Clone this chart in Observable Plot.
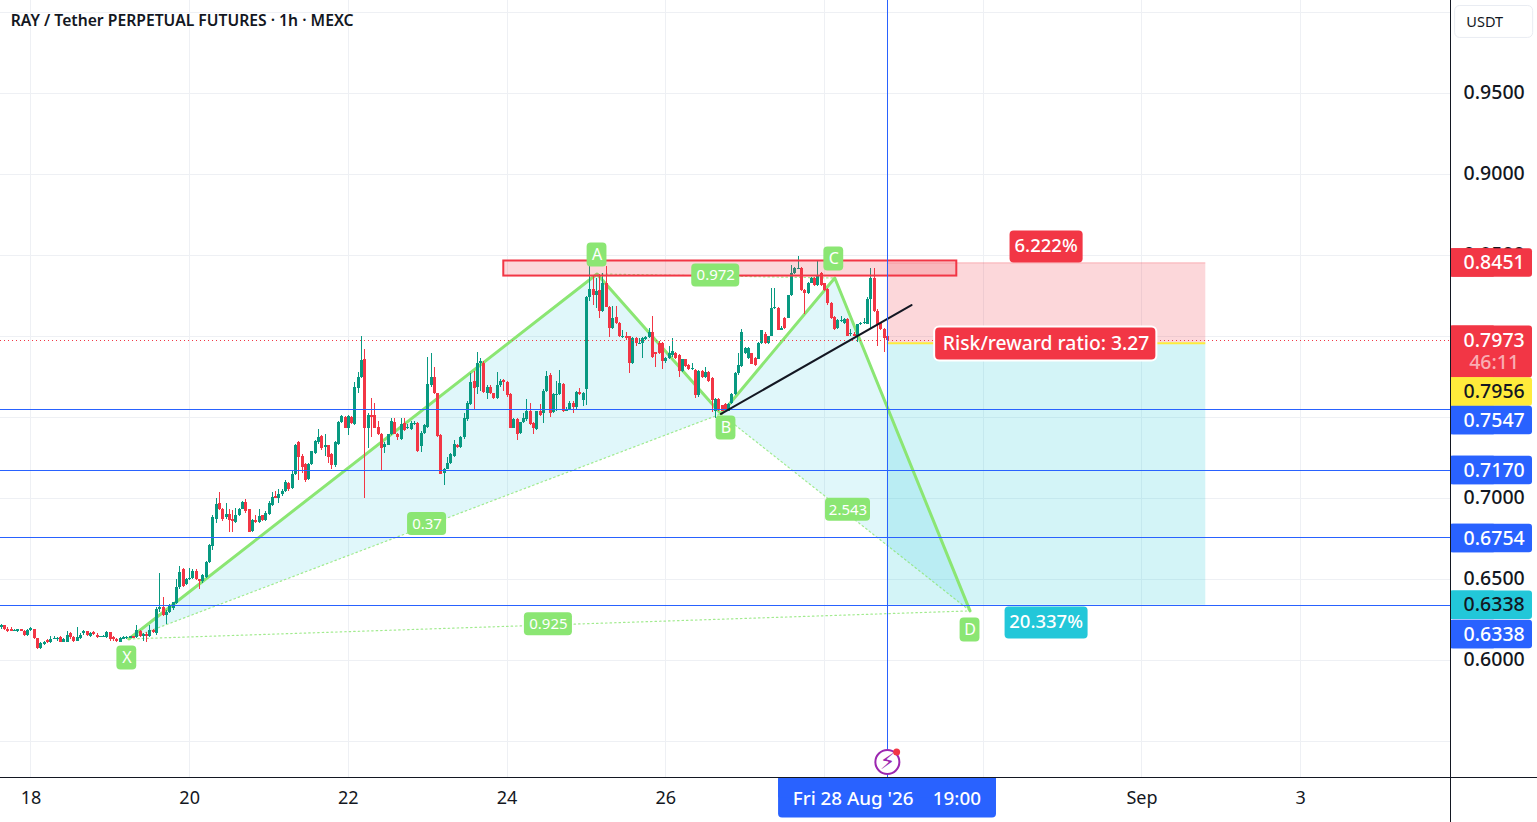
<!DOCTYPE html>
<html>
<head>
<meta charset="utf-8">
<script src="https://cdn.jsdelivr.net/npm/d3@7"></script>
<script src="https://cdn.jsdelivr.net/npm/@observablehq/plot@0.6"></script>
<style>html,body{margin:0;padding:0;background:#fff;overflow:hidden}svg{display:block}</style>
</head>
<body>
<div id="chart"></div>
<script>
// hourly candles in ticks of 0.0001; first candle is 9 hours before 18 Aug 00:00
const opens = [
6204,6210,6191,6185,6179,6179,6185,6179,6154,6185,
6191,6130,6068,6093,6117,6105,6130,6130,6136,6111,
6111,6161,6136,6117,6130,6161,6179,6142,6167,6154,
6142,6142,6136,6167,6136,6124,6111,6130,6136,6136,
6142,6136,6179,6148,6154,6142,6185,6161,6309,6327,
6272,6296,6315,6346,6445,6556,6463,6494,6506,6549,
6494,6482,6512,6599,6698,6870,6963,6932,6877,6901,
6864,6846,6889,6932,6975,6926,6796,6864,6846,6889,
6864,6901,6951,7006,7000,7019,7043,7087,7056,7142,
7340,7259,7204,7117,7204,7272,7340,7377,7309,7321,
7266,7198,7333,7463,7500,7432,7500,7451,7679,7741,
7852,7426,7506,7512,7438,7395,7309,7327,7389,7469,
7395,7364,7457,7432,7420,7457,7457,7315,7401,7438,
7692,7741,7642,7383,7154,7179,7210,7259,7327,7309,
7371,7482,7580,7722,7685,7833,7833,7648,7685,7642,
7617,7692,7722,7716,7636,7432,7482,7401,7463,7482,
7537,7457,7420,7531,7519,7660,7759,7525,7636,7636,
7698,7537,7549,7586,7556,7654,7599,7667,8235,8290,
8253,8278,8154,8327,8179,8049,8117,8080,7994,7994,
7994,7833,7982,7951,7951,7982,7988,8019,7895,7951,
7951,7840,7864,7877,7895,7877,7778,7852,7815,7796,
7790,7630,7778,7741,7772,7735,7537,7611,7568,7580,
7537,7586,7636,7766,7809,7889,7864,7889,7864,7858,
7951,8012,7951,8000,8167,8167,8037,8111,8111,8247,
8383,8414,8414,8278,8265,8327,8358,8309,8383,8321,
8290,8198,8117,8049,8093,8080,8099,8012,8012,8000,
8068,8080,8074,8228,8358,8154,8080,8043,8000];
const closes = [
6210,6191,6173,6179,6179,6185,6179,6154,6185,6191,
6130,6068,6099,6111,6111,6124,6130,6130,6111,6124,
6154,6136,6117,6136,6154,6179,6154,6161,6161,6136,
6142,6142,6167,6124,6124,6117,6130,6136,6136,6142,
6136,6185,6142,6154,6148,6185,6167,6309,6321,6272,
6296,6333,6352,6445,6543,6451,6500,6506,6549,6494,
6482,6519,6599,6704,6877,6957,6926,6870,6901,6864,
6858,6889,6932,6975,6914,6790,6864,6846,6883,6864,
6907,6963,7006,7000,7019,7043,7093,7050,7148,7327,
7247,7191,7105,7204,7284,7346,7371,7303,7321,7253,
7198,7340,7463,7506,7432,7506,7457,7685,7741,7846,
7426,7512,7500,7432,7389,7303,7333,7389,7475,7395,
7371,7451,7414,7432,7457,7457,7284,7401,7445,7698,
7741,7642,7377,7148,7179,7216,7266,7333,7309,7371,
7488,7586,7716,7679,7833,7840,7654,7685,7642,7617,
7692,7722,7716,7630,7432,7482,7395,7463,7488,7537,
7451,7426,7531,7512,7660,7753,7519,7636,7636,7704,
7531,7549,7586,7556,7654,7636,7648,8235,8284,8253,
8272,8154,8327,8179,8049,8111,8080,7994,7994,7988,
7833,7982,7951,7951,7982,7988,8019,7870,7889,7895,
7840,7864,7895,7907,7864,7778,7852,7809,7796,7796,
7630,7778,7741,7772,7722,7599,7611,7543,7537,7549,
7580,7636,7766,7815,8019,7920,7920,7827,7815,7951,
8031,7951,7994,8167,8179,8037,8049,8049,8247,8383,
8414,8414,8278,8265,8327,8358,8309,8371,8309,8278,
8198,8105,8043,8093,8093,8099,8000,8012,8000,8068,
8080,8080,8228,8352,8154,8074,8043,7982,7973];
const highs = [
6222,6216,6198,6198,6191,6191,6191,6185,6191,6198,
6191,6130,6105,6117,6124,6142,6142,6136,6142,6130,
6173,6167,6142,6198,6161,6185,6179,6167,6173,6161,
6148,6154,6173,6167,6142,6130,6136,6142,6148,6148,
6148,6210,6185,6161,6167,6210,6191,6321,6531,6383,
6303,6340,6358,6494,6580,6562,6506,6562,6556,6556,
6500,6525,6611,6710,6889,7000,7037,6938,6963,6932,
6920,6938,6938,6981,6988,6932,6870,6895,6926,6895,
6914,6981,7031,7043,7050,7050,7111,7093,7161,7333,
7346,7266,7210,7210,7290,7358,7420,7383,7395,7327,
7272,7346,7475,7512,7506,7512,7506,7710,7772,8000,
7914,7519,7617,7586,7475,7401,7340,7395,7488,7488,
7401,7488,7488,7451,7475,7475,7463,7408,7451,7870,
7889,7803,7648,7395,7185,7247,7272,7358,7333,7377,
7519,7593,7766,7778,7901,7864,7840,7692,7692,7648,
7772,7729,7729,7722,7642,7488,7488,7469,7519,7605,
7586,7463,7537,7580,7667,7778,7766,7642,7722,7784,
7704,7556,7593,7593,7660,7673,7654,8241,8537,8371,
8358,8377,8383,8426,8185,8185,8185,8086,8031,8019,
8000,7988,7988,7982,7988,8000,8049,8123,7901,7963,
7957,7870,7938,7982,7901,7883,7858,7858,7821,7833,
7796,7784,7784,7803,7778,7741,7617,7617,7574,7586,
7586,7642,7772,7889,8043,7926,7926,7895,7870,7957,
8037,8019,8000,8296,8296,8173,8056,8117,8253,8438,
8420,8488,8420,8284,8333,8364,8364,8457,8389,8327,
8296,8204,8123,8099,8123,8105,8105,8043,8019,8074,
8086,8111,8235,8414,8414,8161,8086,8049,8006];
const lows = [
6191,6185,6167,6173,6173,6167,6173,6148,6148,6179,
6124,6062,6062,6087,6099,6099,6124,6117,6105,6105,
6105,6124,6111,6117,6124,6154,6148,6136,6154,6130,
6136,6136,6130,6117,6117,6111,6105,6124,6124,6130,
6130,6130,6136,6117,6111,6136,6161,6154,6296,6266,
6222,6290,6303,6340,6438,6445,6457,6488,6500,6488,
6438,6475,6506,6593,6679,6840,6920,6852,6870,6784,
6790,6840,6883,6926,6907,6784,6790,6840,6840,6858,
6858,6895,6945,6994,6969,7012,7037,7043,7050,7136,
7111,7154,7093,7111,7198,7266,7333,7296,7259,7210,
7179,7191,7327,7457,7426,7383,7451,7445,7642,7735,
6994,7303,7371,7426,7383,7167,7272,7321,7383,7389,
7358,7358,7408,7420,7414,7445,7278,7278,7395,7432,
7685,7636,7371,7142,7080,7173,7204,7253,7303,7303,
7364,7475,7574,7549,7636,7660,7648,7611,7636,7611,
7611,7685,7660,7623,7426,7426,7358,7395,7457,7475,
7445,7395,7414,7506,7457,7654,7494,7519,7537,7630,
7525,7531,7543,7519,7549,7630,7562,7568,8216,8191,
8167,8111,8148,8173,7988,8043,8074,7988,7982,7975,
7766,7827,7938,7945,7864,7975,7982,7864,7803,7883,
7796,7833,7858,7870,7852,7741,7772,7803,7790,7784,
7617,7623,7735,7735,7716,7525,7488,7537,7531,7543,
7531,7580,7630,7759,7803,7883,7858,7821,7809,7852,
7945,7945,7945,7994,8161,8031,8031,8043,8105,8241,
8377,8408,8272,8130,8259,8321,8303,8303,8303,8272,
8191,8099,8037,8043,8086,8074,7994,8000,7994,7957,
8062,8074,8068,8049,8148,7938,8037,7901,7969];
const firstHour = -9;

// axes
const gridHours = [0,48,96,144,192,240,288,336,384];
const dayHours = [0,48,96,144,192,336,384];
const dayLabels = ["18","20","22","24","26","Sep","3"];
const gridPrices = [1,0.95,0.9,0.85,0.8,0.75,0.7,0.65,0.6,0.55];
const tickPrices = [0.95,0.9,0.85,0.7,0.65,0.6];

// pattern points X A B C D
const patternHours = [29.6,171.2,208.7,243.1,284];
const patternPrices = [0.6130,0.8383,0.7519,0.8358,0.6303];
const patternNames = ["X","A","B","C","D"];
const nameHours = [29,171.2,210.2,242.8,284];
const namePrices = [0.6012,0.85,0.7432,0.8475,0.6185];
const ratioTexts = ["0.972","0.37","2.543","0.925"];
const ratioHours = [207.1,119.8,247.1,156.5];
const ratioPrices = [0.8374,0.6840,0.6927,0.6220];
const ratioHalf = [7.26,5.9,6.8,7.26];

// drawings
const levels = [0.7547,0.7170,0.6754,0.6338];
const lastPrice = 0.7973, entry = 0.7956, stop = 0.8451, target = 0.6338;
const posStart = 259, posEnd = 355.3;
const zoneHours = [143,280], zonePrices = [0.8463,0.8370];
const trendHours = [208.7,266.3], trendPrices = [0.7519,0.8191];

// price-axis flags
const flagTexts = ["0.8451","0.7956","0.7547","0.7170","0.6754","0.6338","0.6338"];
const flagCenters = [0.8451,0.7654,0.7478,0.7170,0.6750,0.6338,0.6157];
const flagFills = ["#f23645","#ffeb3b","#2962ff","#2962ff","#2962ff","#22c7d9","#2962ff"];
const flagInks = ["#fff","#131722","#fff","#fff","#fff","#131722","#fff"];

const font = "'Noto Sans'";
const ink = "#131722", gridCol = "#eef0f4", green = "#8be673";
const red = "#f23645", up = "#089981", blue = "#2962ff", cyan = "#22c7d9";
const P = v => v / 10000;
const crisp = {shapeRendering:"crispEdges"};

const candles = opens.map((o,i) => ({h:firstHour+i,o:P(o),c:P(closes[i]),hi:P(highs[i]),lo:P(lows[i])}));
const body = d => {
  const t = Math.max(d.o,d.c), b = Math.min(d.o,d.c);
  return t-b < 0.0008 ? [(t+b)/2+0.0004,(t+b)/2-0.0004] : [t,b];
};
const isUp = d => d.c >= d.o;
const pat = patternNames.map((n,i) => ({n,h:patternHours[i],p:patternPrices[i]}));
const poly = idx => idx.map(i => pat[i]);
const seg = (a,b) => [pat[a],pat[b]];
const rows = (...a) => a[0].map((_,i) => a.map(c => c[i]));

const xMin = -9.2, xMax = 429.3, yMin = 0.52747, yMax = 1.0071;
const axisEnd = 454.1, axisMid = 442.5, floorP = 0.5, dateY = 0.5144;

const marks = [
  // grid
  Plot.ruleY(gridPrices,{x1:xMin,x2:xMax,stroke:gridCol,strokeWidth:1,...crisp}),
  Plot.ruleX(gridHours,{y1:yMax,y2:yMin,stroke:gridCol,strokeWidth:1,...crisp}),
  // position tool
  Plot.rect([0],{x1:posStart,x2:posEnd,y1:stop,y2:entry,fill:red,fillOpacity:0.2}),
  Plot.ruleY([stop],{x1:posStart,x2:posEnd,stroke:red,strokeOpacity:0.25,strokeWidth:1}),
  Plot.rect([0],{x1:posStart,x2:posEnd,y1:entry,y2:target,fill:cyan,fillOpacity:0.2}),
  // harmonic fills
  Plot.line([...poly([0,1,2]),pat[0]],{x:"h",y:"p",stroke:"none",fill:cyan,fillOpacity:0.14}),
  Plot.line([...poly([2,3,4]),pat[2]],{x:"h",y:"p",stroke:"none",fill:cyan,fillOpacity:0.14}),
  // dotted ties
  ...[[0,2],[1,3],[2,4],[0,4]].map(([a,b]) => Plot.line(seg(a,b),{x:"h",y:"p",stroke:green,strokeWidth:1.2,strokeDasharray:"1.5,3",strokeOpacity:0.8})),
  // legs
  Plot.line(pat,{x:"h",y:"p",stroke:green,strokeWidth:3}),
  // wicks and bodies
  Plot.ruleX(candles.filter(isUp),{x:"h",y1:"hi",y2:"lo",stroke:up,strokeWidth:1,...crisp}),
  Plot.ruleX(candles.filter(d=>!isUp(d)),{x:"h",y1:"hi",y2:"lo",stroke:red,strokeWidth:1,...crisp}),
  Plot.ruleX(candles.filter(isUp),{x:"h",y1:d=>body(d)[0],y2:d=>body(d)[1],stroke:up,strokeWidth:3,...crisp}),
  Plot.ruleX(candles.filter(d=>!isUp(d)),{x:"h",y1:d=>body(d)[0],y2:d=>body(d)[1],stroke:red,strokeWidth:3,...crisp}),
  // levels
  Plot.ruleY(levels,{x1:xMin,x2:xMax,stroke:blue,strokeWidth:1,...crisp}),
  Plot.ruleY([lastPrice],{x1:xMin,x2:xMax,stroke:red,strokeWidth:1,strokeDasharray:"1,3",...crisp}),
  Plot.ruleY([entry],{x1:posStart,x2:posEnd,stroke:"#ffeb3b",strokeWidth:2}),
  // zone
  Plot.rect([0],{x1:zoneHours[0],x2:zoneHours[1],y1:zonePrices[0],y2:zonePrices[1],fill:red,fillOpacity:0.2,stroke:red,strokeWidth:2}),
  // trend
  Plot.line(rows(trendHours,trendPrices),{x:"0",y:"1",stroke:ink,strokeWidth:2}),
  // crosshair
  Plot.ruleX([259],{y1:yMax,y2:yMin,stroke:blue,strokeWidth:1,...crisp}),
  // pattern names
  Plot.rect(rows(nameHours,namePrices),{x1:d=>d[0]-3,x2:d=>d[0]+3,y1:d=>d[1]+0.0074,y2:d=>d[1]-0.0074,fill:green,rx:4}),
  Plot.text(rows(nameHours,namePrices,patternNames),{x:"0",y:"1",text:"2",fill:"#fff",fontSize:16,fontFamily:font}),
  // ratios
  Plot.rect(rows(ratioHours,ratioPrices,ratioHalf),{x1:d=>d[0]-d[2],x2:d=>d[0]+d[2],y1:d=>d[1]+0.0071,y2:d=>d[1]-0.0071,fill:green,rx:4}),
  Plot.text(rows(ratioHours,ratioPrices,ratioTexts),{x:"0",y:"1",text:"2",fill:"#fff",fontSize:15,fontFamily:font}),
  // tool labels
  Plot.rect([0],{x1:296.1,x2:318.2,y1:0.8648,y2:0.8451,fill:red,rx:4}),
  Plot.text(["6.222%"],{x:307,y:0.8552,text:d=>d,fill:"#fff",fontSize:18.5,fontFamily:font,fontWeight:500}),
  Plot.rect([0],{x1:294.6,x2:319.7,y1:0.6327,y2:0.6130,fill:cyan,rx:4}),
  Plot.text(["20.337%"],{x:307,y:0.6232,text:d=>d,fill:"#fff",fontSize:18.5,fontFamily:font,fontWeight:500}),
  Plot.rect([0],{x1:273.3,x2:340.5,y1:0.8056,y2:0.7846,fill:red,stroke:"#fff",strokeWidth:2,rx:5}),
  Plot.text(["Risk/reward ratio: 3.27"],{x:307,y:0.7953,text:d=>d,fill:"#fff",fontSize:19.3,fontFamily:font,fontWeight:500}),
  // time axis
  Plot.text(dayLabels,{x:(d,i)=>dayHours[i],y:dateY,text:d=>d,fill:ink,fontSize:18,fontFamily:font,fontWeight:d=>d==="Sep"?600:500}),
  // signal icon
  Plot.dot([0],{x:259,y:0.5370,r:12,fill:"#fff",stroke:"#9c27b0",strokeWidth:2}),
  Plot.text(["⚡"],{x:259,y:0.5370,text:d=>d,fill:"#9c27b0",fontSize:22,fontFamily:"'DejaVu Sans'"}),
  Plot.dot([0],{x:261.8,y:0.5432,r:3.5,fill:red}),
  Plot.rect([0],{x1:226.1,x2:292,y1:yMin,y2:0.5025,fill:blue,rx:4}),
  Plot.rect([0],{x1:226.1,x2:292,y1:yMin,y2:0.515,fill:blue}),
  Plot.text(["Fri 28 Aug '26"],{x:230.4,y:dateY,text:d=>d,fill:"#fff",textAnchor:"start",fontSize:18.8,fontFamily:font,fontWeight:500}),
  Plot.text(["19:00"],{x:287.3,y:dateY,text:d=>d,fill:"#fff",textAnchor:"end",fontSize:18.8,fontFamily:font,fontWeight:500}),
  // price axis
  Plot.text(tickPrices,{x:axisMid,y:d=>d,text:d=>d.toFixed(4),fill:ink,fontSize:19.5,fontFamily:font,fontWeight:500}),
  Plot.rect([0],{x1:xMax,x2:axisEnd,y1:0.8062,y2:0.7741,fill:red,rx:3}),
  Plot.rect([0],{x1:xMax,x2:axisMid,y1:0.8062,y2:0.7741,fill:red}),
  Plot.text([lastPrice],{x:axisMid,y:d=>d,text:d=>d.toFixed(4),fill:"#fff",fontSize:19.5,fontFamily:font,fontWeight:500}),
  Plot.text(["46:11"],{x:axisMid,y:0.7833,text:d=>d,fill:"#fff",fillOpacity:0.6,fontSize:19.5,fontFamily:font,fontWeight:500}),
  Plot.rect(rows(flagCenters,flagFills),{x1:xMax,x2:axisEnd,y1:d=>d[0]+0.0088,y2:d=>d[0]-0.0088,fill:d=>d[1],rx:3}),
  Plot.rect(rows(flagCenters,flagFills),{x1:xMax,x2:axisMid,y1:d=>d[0]+0.0088,y2:d=>d[0]-0.0088,fill:d=>d[1]}),
  Plot.text(rows(flagCenters,flagTexts,flagInks),{x:axisMid,y:"0",text:"1",fill:"2",fontSize:19.5,fontFamily:font,fontWeight:500}),
  Plot.rect([0],{x1:430.7,x2:454.3,y1:1.0037,y2:0.9840,fill:"#fff",stroke:"#e9ecf2",strokeWidth:1,rx:5}),
  Plot.text(["USDT"],{x:434.1,y:0.9939,text:d=>d,fill:ink,textAnchor:"start",fontSize:14.5,fontFamily:font}),
  // frame
  Plot.ruleX([xMax+0.05],{y1:yMax,y2:floorP,stroke:ink,strokeWidth:1,...crisp}),
  Plot.ruleY([yMin],{x1:xMin,x2:xMax+32,stroke:ink,strokeWidth:1,...crisp}),
  // title
  Plot.text(["RAY / Tether PERPETUAL FUTURES · 1h · MEXC"],{x:-6.1,y:0.9944,text:d=>d,fill:ink,textAnchor:"start",fontSize:15.7,fontFamily:font,fontWeight:600})
];

const chart = Plot.plot({
  width:1537, height:822,
  marginLeft:0, marginRight:87, marginTop:0, marginBottom:45,
  x:{type:"linear",domain:[xMin,xMax],axis:null},
  y:{type:"linear",domain:[yMin,yMax],axis:null},
  color:{type:"identity"},
  style:{background:"#fff",fontFamily:font},
  marks
});
document.getElementById("chart").appendChild(chart);
</script>
</body>
</html>
